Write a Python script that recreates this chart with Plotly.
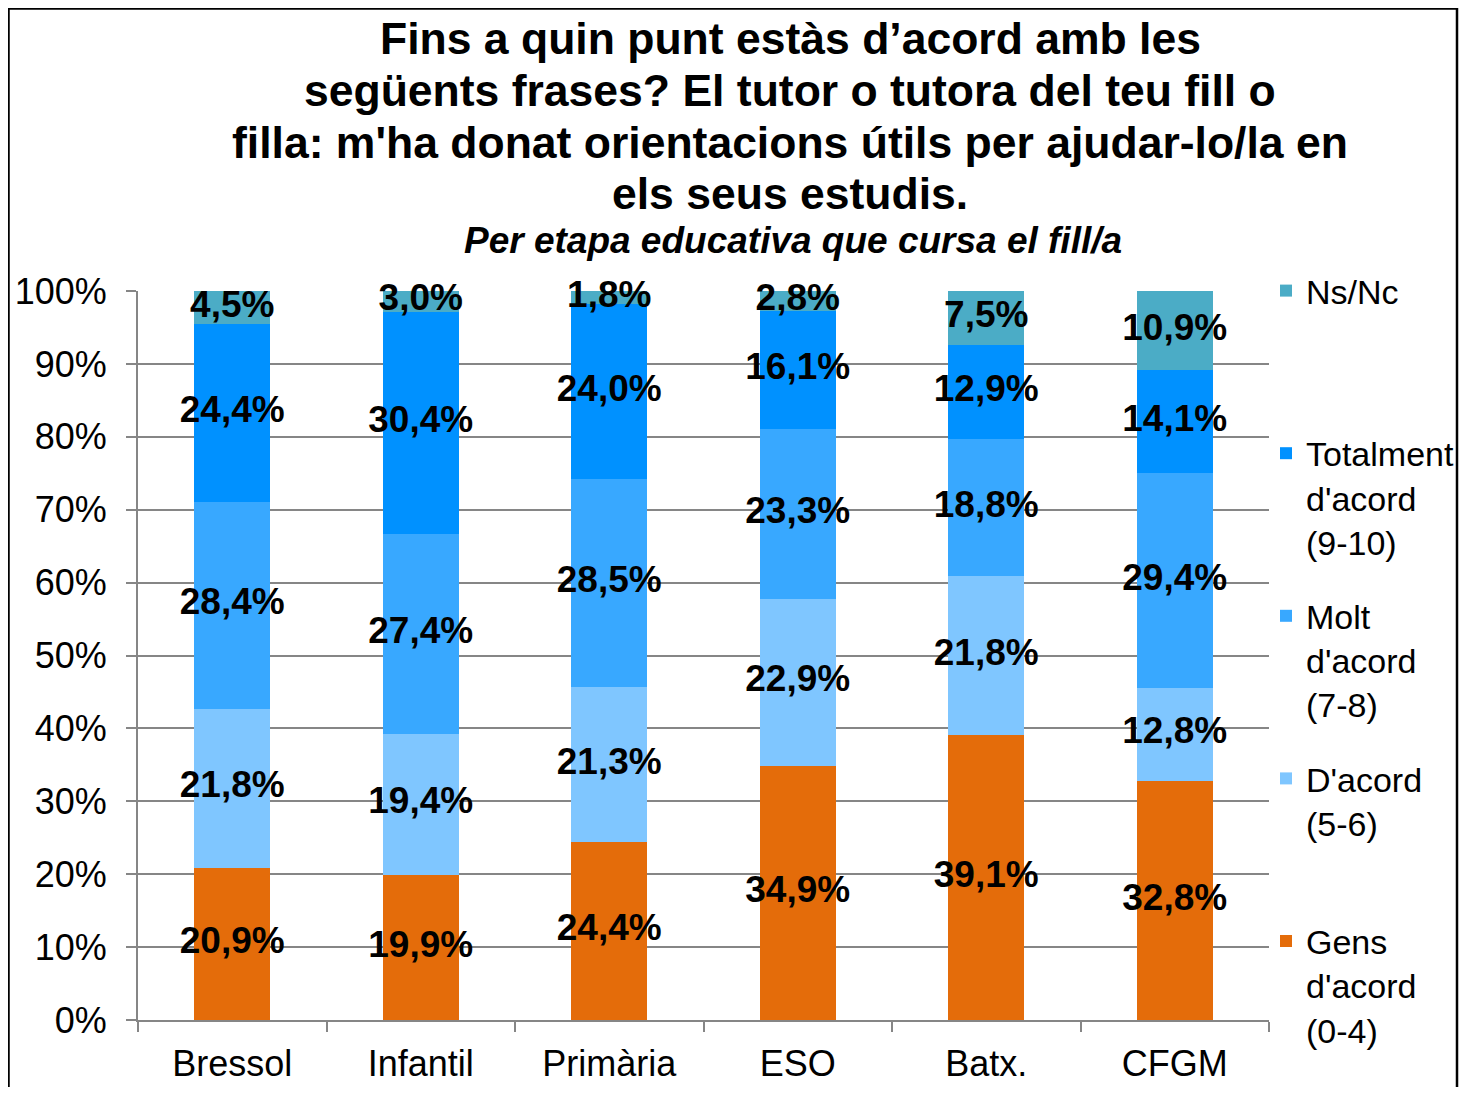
import plotly.graph_objects as go

# ---------------- data ----------------
categories = ["Bressol", "Infantil", "Primària", "ESO", "Batx.", "CFGM"]
gens_dacord = [20.9, 19.9, 24.4, 34.9, 39.1, 32.8]
dacord = [21.8, 19.4, 21.3, 22.9, 21.8, 12.8]
molt_dacord = [28.4, 27.4, 28.5, 23.3, 18.8, 29.4]
totalment_dacord = [24.4, 30.4, 24.0, 16.1, 12.9, 14.1]
ns_nc = [4.5, 3.0, 1.8, 2.8, 7.5, 10.9]

series_values = [gens_dacord, dacord, molt_dacord, totalment_dacord, ns_nc]
series_names = [
    "Gens<br>d'acord<br>(0-4)",
    "D'acord<br>(5-6)<br> ",
    "Molt<br>d'acord<br>(7-8)",
    "Totalment<br>d'acord<br>(9-10)",
    "Ns/Nc<br> <br> ",
]
series_colors = ["#E46C0A", "#7FC6FF", "#38A8FF", "#0091FF", "#4BACC6"]

y_tick_values = [0, 10, 20, 30, 40, 50, 60, 70, 80, 90, 100]
y_tick_labels = [f"{v}%" for v in y_tick_values]

title_lines = [
    "Fins a quin punt estàs d’acord amb les",
    "següents frases? El tutor o tutora del teu fill o",
    "filla: m'ha donat orientacions útils per ajudar-lo/la en",
    "els seus estudis.",
]
subtitle = "Per etapa educativa que cursa el fill/a"

# ---------------- layout geometry ----------------
# page body has an 8px margin, so figure pixels = screen pixels - 8
OFF = 8
W, H = 1468 - OFF, 1095 - 2 * OFF
PL, PR, PT, PB = 138 - OFF, 1269 - OFF, 291 - OFF, 1020 - OFF
FONT = "Liberation Sans, Arial, sans-serif"


def px_to_paper_x(sx):
    return (sx - OFF - PL) / (PR - PL)


def px_to_paper_y(sy):
    return (PB - (sy - OFF)) / (PB - PT)


fig = go.Figure()

# stacked bars
n_series = len(series_values)
for k, (vals, name, color) in enumerate(zip(series_values, series_names, series_colors)):
    fig.add_trace(go.Bar(
        x=categories, y=vals, name=name, marker_color=color,
        marker_line_width=0, legendgroup=name, legendrank=n_series - k,
        hoverinfo="x+y",
    ))

# data labels at segment centres
label_x, label_y, label_t = [], [], []
cum = [0.0] * len(categories)
for vals in series_values:
    for i, v in enumerate(vals):
        label_x.append(categories[i])
        label_y.append(cum[i] + v / 2)
        label_t.append(f"{v:.1f}".replace(".", ",") + "%")
        cum[i] += v
fig.add_trace(go.Scatter(
    x=label_x, y=label_y, text=label_t, mode="text",
    textposition="middle center", cliponaxis=False,
    textfont=dict(family=FONT, size=37, color="black", weight="bold"),
    showlegend=False, hoverinfo="skip",
))

# title lines
title_py = [38, 90, 142, 193]
for line, py in zip(title_lines, title_py):
    fig.add_annotation(
        text=f"<b>{line}</b>", xref="paper", yref="paper",
        x=px_to_paper_x(790), y=px_to_paper_y(py),
        xanchor="center", yanchor="middle", showarrow=False,
        font=dict(family=FONT, size=44.5, color="black"),
    )
fig.add_annotation(
    text=f"<b><i>{subtitle}</i></b>", xref="paper", yref="paper",
    x=px_to_paper_x(793), y=px_to_paper_y(240),
    xanchor="center", yanchor="middle", showarrow=False,
    font=dict(family=FONT, size=37, color="black"),
)

# outer frame
fig.add_shape(
    type="rect", xref="paper", yref="paper",
    x0=px_to_paper_x(8.5), x1=px_to_paper_x(1457),
    y0=px_to_paper_y(1110), y1=px_to_paper_y(8.5),
    line=dict(color="black", width=2.5), fillcolor="rgba(0,0,0,0)",
    layer="below",
)

fig.update_layout(
    width=W, height=H,
    margin=dict(l=PL, r=W - PR, t=PT, b=H - PB, pad=0, autoexpand=False),
    barmode="stack", bargap=0.597,
    paper_bgcolor="white", plot_bgcolor="white",
    font=dict(family=FONT, color="black"),
    showlegend=True,
    legend=dict(
        xref="paper", yref="paper",
        x=px_to_paper_x(1266), y=px_to_paper_y(262),
        xanchor="left", yanchor="top",
        traceorder="grouped", tracegroupgap=27, valign="top",
        font=dict(family=FONT, size=34, color="black"),
        bgcolor="rgba(0,0,0,0)", borderwidth=0, itemwidth=30,
    ),
    xaxis=dict(
        showline=True, linecolor="#868686", linewidth=2,
        ticks="outside", ticklen=10, tickcolor="#868686", tickwidth=2,
        tickson="boundaries", showgrid=False, ticklabelstandoff=11,
        automargin=False,
        tickfont=dict(family=FONT, size=36, color="black"),
    ),
    yaxis=dict(
        range=[0, 100], tickvals=y_tick_values, ticktext=y_tick_labels,
        showline=True, linecolor="#868686", linewidth=2,
        ticks="outside", ticklen=10, tickcolor="#868686", tickwidth=2,
        showgrid=True, gridcolor="#868686", gridwidth=2,
        zeroline=False, ticklabelstandoff=12, automargin=False,
        tickfont=dict(family=FONT, size=36, color="black"),
    ),
)
try:
    fig.update_layout(legend_maxheight=1000)
except ValueError:
    pass

fig.write_html("out.html")
